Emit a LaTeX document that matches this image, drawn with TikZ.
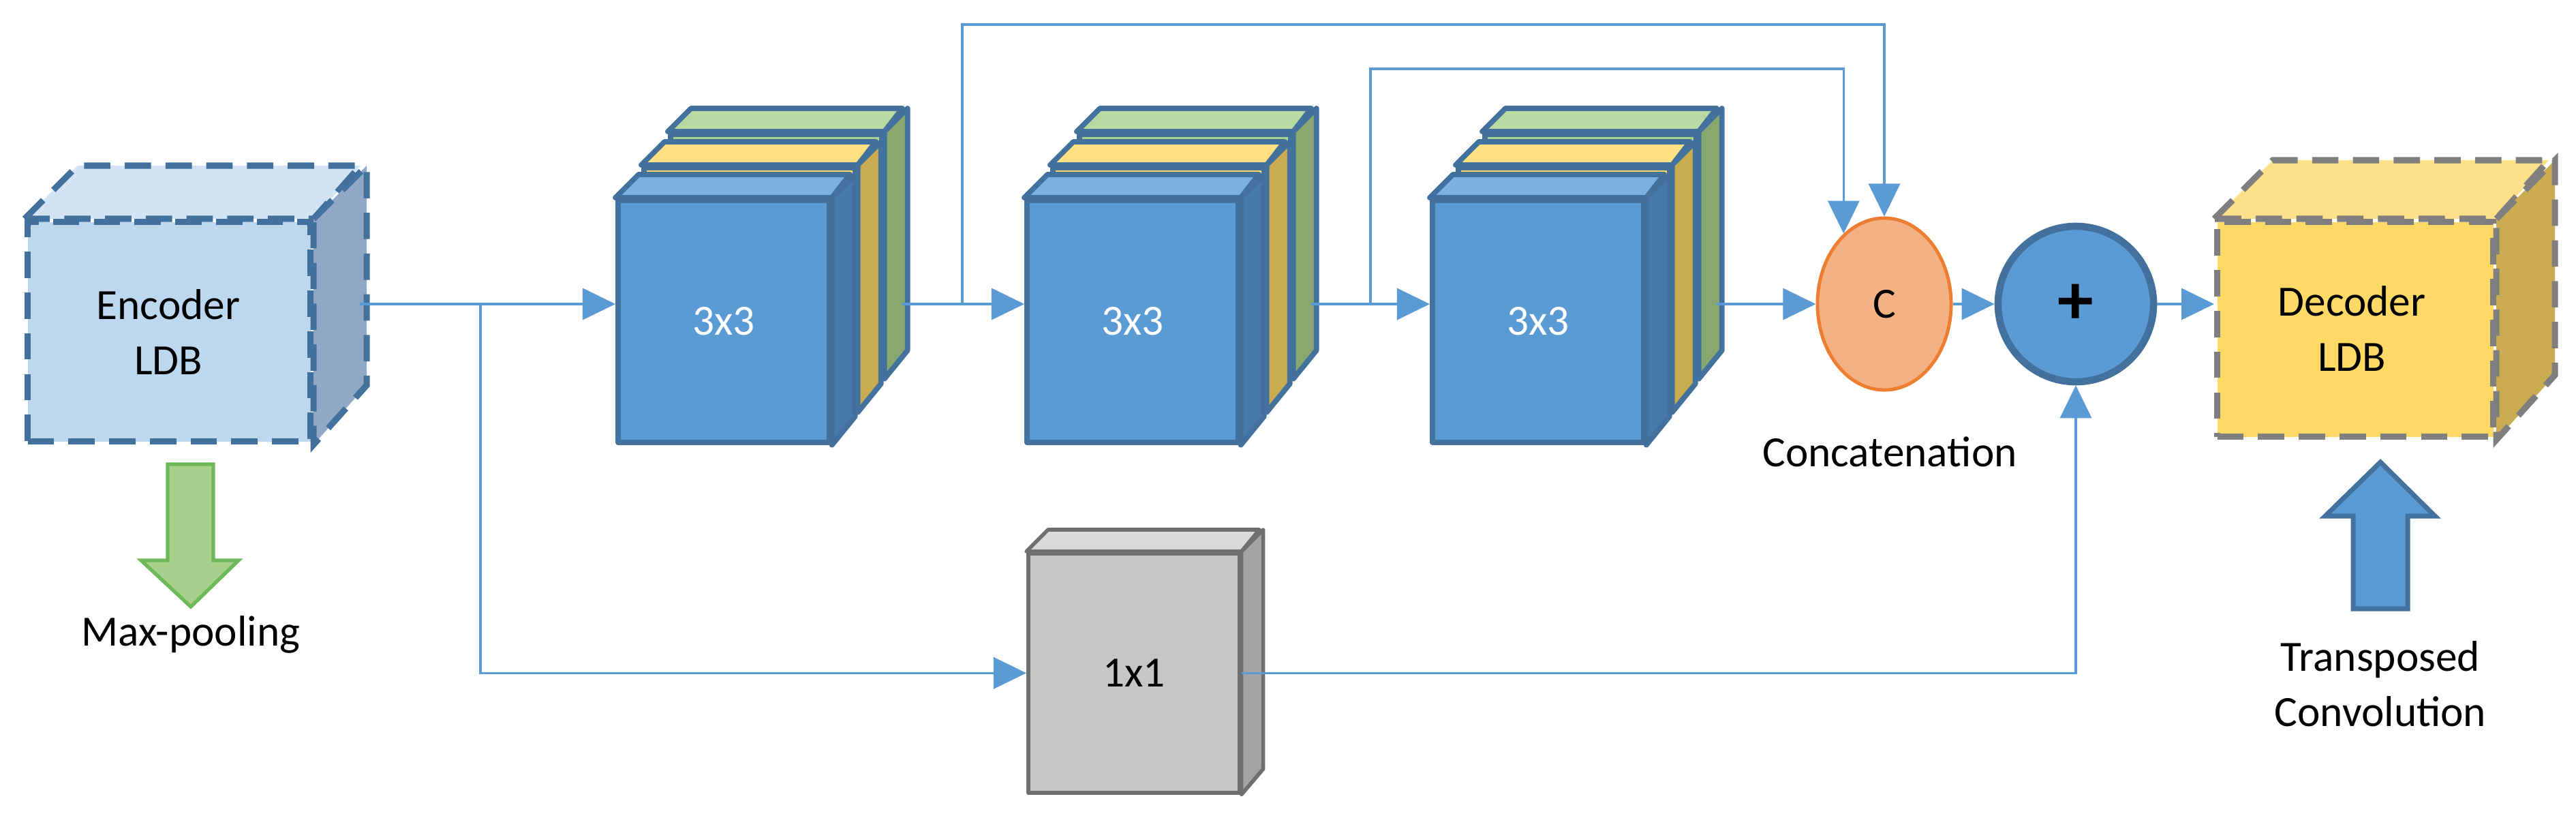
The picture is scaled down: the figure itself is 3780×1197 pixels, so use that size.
\documentclass[tikz,border=0pt]{standalone}
\usepackage{fontspec}
\setmainfont{Carlito}
\usetikzlibrary{arrows.meta,calc,shapes.geometric}

\definecolor{lineblue}{HTML}{5B9BD5}
\definecolor{bfront}{HTML}{5B9BD5}
\definecolor{btop}{HTML}{7DAFDF}
\definecolor{bside}{HTML}{4878A8}
\definecolor{bborder}{HTML}{41719C}
\definecolor{yfront}{HTML}{FFD966}
\definecolor{ytop}{HTML}{FFE083}
\definecolor{yside}{HTML}{C9AC4F}
\definecolor{gfront}{HTML}{A9D18E}
\definecolor{gtop}{HTML}{B8D9A2}
\definecolor{gside}{HTML}{88A86F}
\definecolor{kfront}{HTML}{C6C6C6}
\definecolor{ktop}{HTML}{DADADA}
\definecolor{kside}{HTML}{A3A3A3}
\definecolor{kborder}{HTML}{6F6F6F}
\definecolor{efront}{HTML}{BDD7EE}
\definecolor{etop}{HTML}{D2E3F4}
\definecolor{eside}{HTML}{8FA8C6}
\definecolor{dfront}{HTML}{FFD966}
\definecolor{dtop}{HTML}{FFE08A}
\definecolor{dside}{HTML}{CAAB50}
\definecolor{dborder}{HTML}{7F7F7F}
\definecolor{cfill}{HTML}{F4B183}
\definecolor{cborder}{HTML}{ED7D31}

\tikzset{
	conn/.style={draw=lineblue, line width=1pt, -{Triangle[length=0.48cm,width=0.46cm]}},
	wire/.style={draw=lineblue, line width=1pt},
	cubeline/.style={draw=bborder, line width=2.2pt, line join=round},
	lbl/.style={font=\fontsize{18}{23}\selectfont, align=center},
}

% name, x, y, width, height, depth, front, top, side
\newcommand{\cuboid}[9]{
	\node[cubeline, fill=#7, inner sep=0pt, anchor=north west,
		minimum width={#4*0.01cm}, minimum height={#5*0.01cm}] (#1) at (#2,#3) {};
	\draw[cubeline, fill=#8] (#1.north west) -- ++(#6,-#6) -- ++(#4,0) -- (#1.north east) -- cycle;
	\draw[cubeline, fill=#9] (#1.north east) -- ++(#6,-#6) -- ++(0,#5) -- (#1.south east) -- cycle;
}

\begin{document}
\begin{tikzpicture}[x=0.01cm, y=-0.01cm]
	\useasboundingbox (0,0) rectangle (3780,1197);

	% encoder and decoder
	\begin{scope}[cubeline/.style={draw=bborder, line width=2.6pt, dash pattern=on 11pt off 6pt}]
		\cuboid{enc}{36}{321}{415}{322}{78}{efront}{etop}{eside}
	\end{scope}
	\begin{scope}[cubeline/.style={draw=dborder, line width=2.6pt, dash pattern=on 11pt off 6pt}]
		\cuboid{dec}{3249}{321}{405}{315}{86}{dfront}{dtop}{dside}
	\end{scope}
	\node[lbl] (enct) at (247,487) {Encoder\\LDB};
	\node[lbl] (dect) at (3451,482) {Decoder\\LDB};

	% 3x3 blocks
	\foreach \x/\n in {903/1, 1503/2, 2098/3}{
		\cuboid{g\n}{\x+77}{193}{310}{355}{34}{gfront}{gtop}{gside}
		\cuboid{y\n}{\x+38}{242}{310}{355}{34}{yfront}{ytop}{yside}
		\cuboid{b\n}{\x}{290}{310}{355}{34}{bfront}{btop}{bside}
		\node[lbl, text=white] (t\n) at (b\n) {3x3};
		\coordinate (o\n) at (\x+77+310+34,446);
	}

	% 1x1 block
	\begin{scope}[cubeline/.style={draw=kborder, line width=1.6pt, line join=round}]
		\cuboid{k}{1506}{809}{310}{351}{32}{kfront}{ktop}{kside}
	\end{scope}
	\node[lbl] (kt) at (k) {1x1};

	% merge nodes
	\node[ellipse, draw=cborder, line width=1.4pt, fill=cfill, minimum width=1.96cm,
		minimum height=2.52cm, inner sep=0pt, lbl] (c) at (2765,446) {C};
	\node[circle, draw=bborder, line width=3pt, fill=bfront, minimum size=2.28cm,
		inner sep=0pt, font=\fontsize{30}{30}\selectfont\bfseries] (p) at (3046,446) {+};
	\node[lbl] (ct) at (2773,663) {Concatenation};

	% connectors
	\coordinate (m) at (0,446);
	\coordinate (e1) at (528,446);
	\coordinate (j0) at (705,446);
	\coordinate (j1) at (1412,446);
	\coordinate (j2) at (2011,446);
	\coordinate (u1) at (1412,36);
	\coordinate (u2) at (2011,101);
	\draw[conn] (e1) -- (b1.west |- m);
	\draw[conn] (j0) |- (k.west);
	\draw[conn] (o1) -- (b2.west |- m);
	\draw[conn] (o2) -- (b3.west |- m);
	\draw[conn] (o3) -- (c.west);
	\draw[conn] (j1) -- (u1) -| (c.north);
	\draw[conn] (j2) -- (u2) -| (c.120);
	\draw[conn] (c) -- (p);
	\draw[conn] (p.east) -- (dec.west |- m);
	\draw[conn] (k.east) -| (p.south);

	% sampling arrows
	\draw[draw=gside!80!green, line width=1.5pt, fill=gfront] (246,681) -- (313,681) -- (313,822)
		-- (350,822) -- (280,890) -- (207,822) -- (246,822) -- cycle;
	\node[lbl] (mp) at (280,931) {Max-pooling};
	\draw[draw=bborder, line width=2pt, fill=bfront] (3453,893) -- (3533,893) -- (3533,757)
		-- (3573,757) -- (3493,678) -- (3412,757) -- (3453,757) -- cycle;
	\node[lbl] (tc) at (3493,1003) {Transposed\\Convolution};
\end{tikzpicture}
\end{document}
